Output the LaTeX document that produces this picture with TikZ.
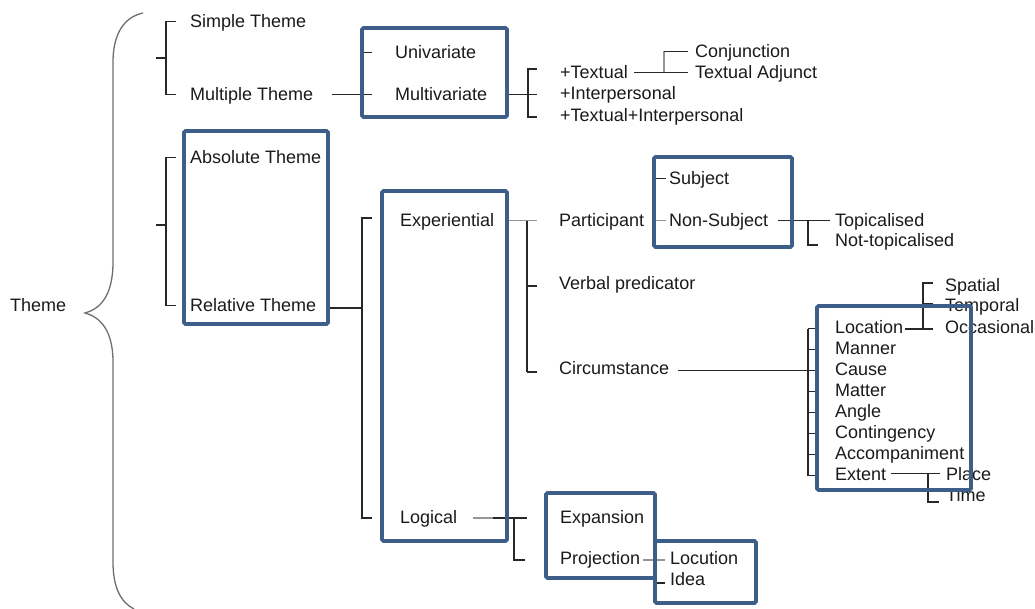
\documentclass[tikz,border=0pt]{standalone}
\usepackage{fontspec}
\setmainfont{Liberation Sans}
\definecolor{txt}{RGB}{26,26,26}
\definecolor{lnc}{RGB}{40,40,40}
\definecolor{lgc}{RGB}{150,150,150}
\definecolor{boxc}{RGB}{62,94,138}
\definecolor{bracec}{RGB}{110,110,110}
\begin{document}
\begin{tikzpicture}[x=1pt,y=-1pt,
  lbl/.style={anchor=west,inner sep=0pt,text height=13pt,text depth=0pt,
              font=\fontsize{18}{21}\selectfont,text=txt},
  ln/.style={draw=lnc,line width=1.1pt},
  lgl/.style={draw=lgc,line width=1.1pt},
  bracel/.style={draw=bracec,line width=1.3pt},
  bbox/.style={draw=boxc,line width=3.8pt,rounded corners=1.5pt}]
\useasboundingbox (0,0) rectangle (1035,609);

% ---- labels ----
\node[lbl] (th)  at (10,305.5)  {Theme};
\node[lbl] (st)  at (190,21.5)  {Simple Theme};
\node[lbl] (mt)  at (190,94.5)  {Multiple Theme};
\node[lbl] (at)  at (190,157.5) {Absolute Theme};
\node[lbl] (rt)  at (190,305.5) {Relative Theme};
\node[lbl] (uv)  at (395,52.5)  {Univariate};
\node[lbl] (mv)  at (395,94.5)  {Multivariate};
\node[lbl] (tx)  at (560,72.5)  {+Textual};
\node[lbl] (ip)  at (560,93.5)  {+Interpersonal};
\node[lbl] (ti)  at (560,115.5) {+Textual+Interpersonal};
\node[lbl] (cj)  at (695,51.5)  {Conjunction};
\node[lbl] (ta)  at (695,72.5)  {Textual Adjunct};
\node[lbl] (ex)  at (400,220.5) {Experiential};
\node[lbl] (pa)  at (559,220.5) {Participant};
\node[lbl] (su)  at (669,178.5) {Subject};
\node[lbl] (ns)  at (669,220.5) {Non-Subject};
\node[lbl] (tp)  at (835,220.5) {Topicalised};
\node[lbl] (nt)  at (835,240.5) {Not-topicalised};
\node[lbl] (vp)  at (559,283.5) {Verbal predicator};
\node[lbl] (ci)  at (559,367.5) {Circumstance};
\node[lbl] (lo)  at (835,326.5) {Location};
\node[lbl] (ma)  at (835,347.5) {Manner};
\node[lbl] (ca)  at (835,368.5) {Cause};
\node[lbl] (mat) at (835,389.5) {Matter};
\node[lbl] (an)  at (835,410.5) {Angle};
\node[lbl] (co)  at (835,431.5) {Contingency};
\node[lbl] (ac)  at (835,452.5) {Accompaniment};
\node[lbl] (et)  at (835,473.5) {Extent};
\node[lbl] (sp)  at (945,284.5) {Spatial};
\node[lbl] (te)  at (945,305.5) {Temporal};
\node[lbl] (oc)  at (945,326.5) {Occasional};
\node[lbl] (pl)  at (946,473.5) {Place};
\node[lbl] (tm)  at (946,494.5) {Time};
\node[lbl] (lg)  at (400,516.5) {Logical};
\node[lbl] (ep)  at (560,516.5) {Expansion};
\node[lbl] (pj)  at (560,557.5) {Projection};
\node[lbl] (lc)  at (670,557.5) {Locution};
\node[lbl] (id)  at (670,578.5) {Idea};

% ---- big brace ----
\draw[bracel] (143,13) .. controls (120,18) and (113,40) .. (113,62)
  -- (113,262) .. controls (113,296) and (100,309) .. (85,313)
  .. controls (100,317) and (113,330) .. (113,362)
  -- (113,562) .. controls (113,586) and (120,602) .. (134,609);

% ---- simple / multiple ----
\coordinate (b1) at (156,58);
\draw[ln] ([xshift=-14pt]st.west) -| (166,58) |- ([xshift=-14pt]mt.west);
\draw[ln] (b1) -- (166,58);

% ---- absolute / relative ----
\coordinate (b2) at (156,225);
\draw[ln] ([xshift=-14pt]at.west) -| (166,225) |- ([xshift=-14pt]rt.west);
\draw[ln] (b2) -- (166,225);

% ---- multiple -> univariate / multivariate ----
\draw[ln] ([xshift=19pt]mt.east) -- ([xshift=-23pt]mv.west);
\draw[ln] ([xshift=-33pt]uv.west) -- ([xshift=-23pt]uv.west);

% ---- multivariate -> textual / interpersonal ----
\draw[ln] ([xshift=18pt]mv.east) -- ([xshift=-23pt]ip.west |- mv.east);
\draw[ln] (537,69) -| (528,117) -- (537,117);

% ---- textual -> conjunction / textual adjunct ----
\draw[ln] ([xshift=6pt]tx.east) -- ([xshift=-7pt]ta.west);
\draw[lgl] (664,72.5) -- (664,51.5);
\draw[ln] (664,51.5) -- ([xshift=-7pt]cj.west);

% ---- relative -> experiential / logical ----
\draw[ln] (328,308) -- (362,308);
\draw[ln] (372,218) -| (362,518) -- (372,518);

% ---- experiential -> participant / verbal predicator / circumstance ----
\draw[lgl] ([xshift=11pt]ex.east) -- ([xshift=-22pt]pa.west);
\draw[ln] (527,221) -- (527,372);
\draw[ln] (527,286) -- ([xshift=-22pt,yshift=-2.5pt]vp.west);
\draw[ln] (527,372) -- ([xshift=-22pt,yshift=-4.5pt]ci.west);

% ---- subject / non-subject ----
\draw[ln] ([xshift=-13pt]su.west) -- ([xshift=-3pt]su.west);
\draw[lgl] ([xshift=-13pt]ns.west) -- ([xshift=-3pt]ns.west);
\draw[ln] ([xshift=10pt]ns.east) -- ([xshift=-5pt]tp.west);
\draw[ln] (808,220.5) |- ([xshift=-17pt,yshift=-4.5pt]nt.west);

% ---- circumstance types ----
\draw[ln] ([xshift=9pt,yshift=-3pt]ci.east) -- ([xshift=-27pt,yshift=-2pt]ca.west);
\draw[ln] ([xshift=-27pt,yshift=-2pt]lo.west) -- ([xshift=-27pt,yshift=-2pt]et.west);
\foreach \n in {lo,ma,ca,mat,an,co,ac,et}
  \draw[ln] ([xshift=-27pt,yshift=-2pt]\n.west) -- ([xshift=-17pt,yshift=-2pt]\n.west);

% ---- location -> spatial / temporal / occasional ----
\draw[ln] ([xshift=2pt,yshift=-2.5pt]lo.east) -- ([xshift=-12pt,yshift=-2.5pt]oc.west);
\draw[ln] (923,329) |- ([xshift=-12pt,yshift=1.5pt]sp.west);
\draw[ln] (923,304) -- ([xshift=-12pt,yshift=1.5pt]te.west);

% ---- extent -> place / time ----
\draw[ln] ([xshift=5pt]et.east) -- ([xshift=-6pt]pl.west);
\draw[ln] (928,473.5) |- ([xshift=-7pt,yshift=-7.5pt]tm.west);

% ---- logical -> expansion / projection ----
\draw[lgl] ([xshift=16pt,yshift=-1.5pt]lg.east) -- (493,518);
\draw[ln] (493,518) -- ([xshift=-33pt,yshift=-1.5pt]ep.west);
\draw[ln] (514,518) |- ([xshift=-35pt,yshift=-2.5pt]pj.west);

% ---- projection -> locution / idea ----
\draw[lgl] ([xshift=3pt,yshift=-2.5pt]pj.east) -- ([xshift=-5pt,yshift=-2.5pt]lc.west);
\draw[ln] ([xshift=-14pt,yshift=-4.5pt]id.west) -- ([xshift=-5pt,yshift=-4.5pt]id.west);

% ---- highlight frames ----
\draw[bbox] (362,28) rectangle (507,117);
\draw[bbox] (184,131) rectangle (328,324);
\draw[bbox] (382,191) rectangle (507,541);
\draw[bbox] (654,157) rectangle (792,247);
\draw[bbox] (817,306) rectangle (971,490);
\draw[bbox] (546,493) rectangle (655,578);
\draw[bbox] (655,541) rectangle (756,603);
\end{tikzpicture}
\end{document}
